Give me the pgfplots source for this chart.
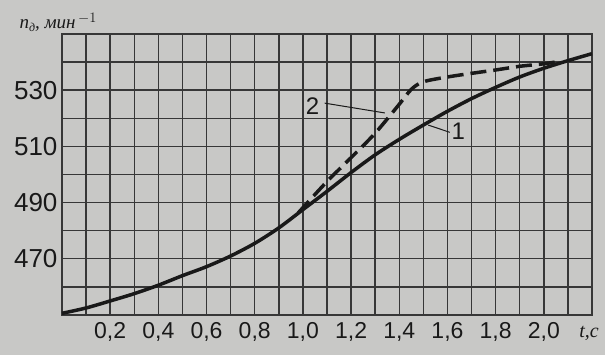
\documentclass[border=0pt]{standalone}
\usepackage{fontspec}
\setmainfont{Liberation Sans}
\newfontfamily\serif{Liberation Serif}
\usepackage{pgfplots}
\pgfplotsset{compat=1.18}
\definecolor{paper}{RGB}{200,200,198}
\definecolor{ink}{RGB}{25,25,25}
\definecolor{gridc}{RGB}{55,55,55}
\begin{document}
\begin{tikzpicture}
\fill[paper] (-62pt,-40pt) rectangle (543pt,315pt);
\useasboundingbox (-62pt,-40pt) rectangle (543pt,315pt);
\begin{axis}[
  at={(0pt,0pt)}, anchor=south west,
  scale only axis, width=530pt, height=281pt,
  xmin=0, xmax=2.2, ymin=450, ymax=550,
  xtick={0.2,0.4,...,2.01},
  xticklabels={{0,2},{0,4},{0,6},{0,8},{1,0},{1,2},{1,4},{1,6},{1,8},{2,0}},
  minor xtick={0.1,0.3,...,2.21},
  ytick={470,490,510,530},
  minor ytick={460,480,...,540},
  grid=both,
  major grid style={gridc, line width=1.4pt},
  minor grid style={gridc, line width=1.4pt},
  axis line style={gridc, line width=1.5pt},
  major tick length=0pt, minor tick length=0pt,
  tick label style={text=ink},
  xticklabel style={font=\fontsize{23}{25}\selectfont, yshift=-4pt, inner xsep=0pt},
  yticklabel style={font=\fontsize{26}{28}\selectfont, xshift=-1pt},
  /pgf/number format/assume math mode=true,
  clip=false,
]
\addplot[ink, line width=3.5pt, smooth] coordinates {
(0,450.6) (0.1,452.5) (0.2,455) (0.3,457.6) (0.4,460.6) (0.5,464) (0.6,467.2)
(0.7,471) (0.8,475.5) (0.9,481) (1.0,487.5) (1.1,494) (1.2,500.7) (1.3,507)
(1.4,512.5) (1.5,517.6) (1.6,522.5) (1.7,527) (1.8,531) (1.9,534.7) (2.0,537.8)
(2.1,540.5) (2.2,543)
};
\addplot[ink, line width=3.5pt, smooth, dash pattern=on 16pt off 7pt] coordinates {
(0.98,486.3) (1.1,497.5) (1.2,506) (1.3,514.7) (1.4,525) (1.45,530.3) (1.5,533)
(1.6,534.7) (1.7,536) (1.8,537.2) (1.9,538.5) (2.0,539.4) (2.06,540.2)
};
\draw[ink, line width=1pt] (axis cs:1.09,525.4) -- (axis cs:1.34,521.9);
\draw[ink, line width=1pt] (axis cs:1.52,517.6) -- (axis cs:1.61,515);
\node[text=ink, font=\fontsize{24}{26}\selectfont] at (axis cs:1.04,524.5) {2};
\node[text=ink, font=\fontsize{24}{26}\selectfont] at (axis cs:1.645,515.5) {1};
\end{axis}
\node[anchor=base west, text=ink, font=\serif\itshape\fontsize{19}{21}\selectfont] at (-46pt,286pt) {n\raisebox{-3pt}{\fontsize{12}{14}\selectfont д}, мин$^{\,-1}$};
\node[text=ink, font=\serif\itshape\fontsize{20}{22}\selectfont] at (527pt,-18pt) {t,c};
\end{tikzpicture}
\end{document}
